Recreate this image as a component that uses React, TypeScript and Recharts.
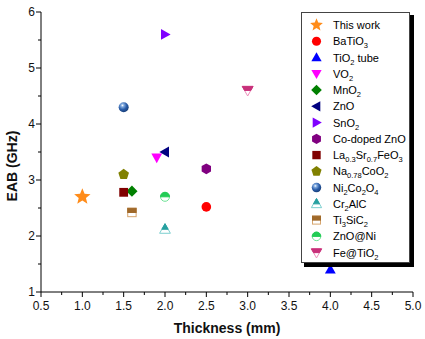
import React from 'react';
import { ScatterChart, Scatter, XAxis, YAxis, Legend } from 'recharts';

// ---- data ----
const names = [
  'This work', 'BaTiO_{3}', 'TiO_{2} tube', 'VO_{2}', 'MnO_{2}', 'ZnO', 'SnO_{2}',
  'Co-doped ZnO', 'La_{0.3}Sr_{0.7}FeO_{3}', 'Na_{0.78}CoO_{2}', 'Ni_{2}Co_{2}O_{4}',
  'Cr_{2}AlC', 'Ti_{3}SiC_{2}', 'ZnO@Ni', 'Fe@TiO_{2}',
];
const thickness = [1.0, 2.5, 4.0, 1.9, 1.6, 2.0, 2.0, 2.5, 1.5, 1.5, 1.5, 2.0, 1.6, 2.0, 3.0];
const eab = [2.7, 2.52, 1.4, 3.4, 2.8, 3.5, 5.6, 3.2, 2.78, 3.1, 4.3, 2.12, 2.42, 2.7, 4.6];
const xTicks = [0.5, 0.75, 1.0, 1.25, 1.5, 1.75, 2.0, 2.25, 2.5, 2.75, 3.0, 3.25, 3.5, 3.75, 4.0, 4.25, 4.5, 4.75, 5.0];
const yTicks = [1, 1.5, 2, 2.5, 3, 3.5, 4, 4.5, 5, 5.5, 6];

// ---- styles ----
const markerKinds = ['star', 'circle', 'triUp', 'triDown', 'diamond', 'triLeft', 'triRight', 'hexagon',
  'square', 'pentagon', 'sphere', 'halfTriUp', 'halfSquare', 'halfCircle', 'halfTriDown'];
const fills = ['#ff8c1a', '#ff0000', '#0000ff', '#ff00ff', '#008000', '#000080', '#8000ff', '#800080',
  '#800000', '#808000', '#2a5ca8', '#26a0a0', '#a0692a', '#22cc55', '#c8307a'];
const lights = ['', '', '', '', '', '', '', '', '', '', '', '#7ccfcf', '#d6a56e', '#6ee396', '#ee8fbb'];

const FONT = '"Liberation Sans", Arial, Helvetica, sans-serif';

const poly = (pts: number[][]) => pts.map((p) => p.join(',')).join(' ');
const regular = (cx: number, cy: number, r: number, n: number, start: number) => {
  const pts: number[][] = [];
  for (let i = 0; i < n; i++) {
    const a = ((start + (360 / n) * i) * Math.PI) / 180;
    pts.push([cx + r * Math.cos(a), cy + r * Math.sin(a)]);
  }
  return pts;
};

function Marker({ kind, cx, cy, fill, light, s = 1, uid }: any) {
  switch (kind) {
    case 'star': {
      const pts: number[][] = [];
      for (let i = 0; i < 10; i++) {
        const a = ((-90 + i * 36) * Math.PI) / 180;
        const r = i % 2 === 0 ? 8.6 * s : 3.8 * s;
        pts.push([cx + r * Math.cos(a), cy + r * Math.sin(a)]);
      }
      return <polygon points={poly(pts)} fill={fill} />;
    }
    case 'circle':
      return <circle cx={cx} cy={cy} r={4.8 * s} fill={fill} />;
    case 'triUp':
      return <polygon points={poly([[cx, cy - 5.6 * s], [cx - 5.4 * s, cy + 4 * s], [cx + 5.4 * s, cy + 4 * s]])} fill={fill} />;
    case 'triDown':
      return <polygon points={poly([[cx, cy + 5.6 * s], [cx - 5.4 * s, cy - 4 * s], [cx + 5.4 * s, cy - 4 * s]])} fill={fill} />;
    case 'triLeft':
      return <polygon points={poly([[cx - 5.6 * s, cy], [cx + 4 * s, cy - 5.4 * s], [cx + 4 * s, cy + 5.4 * s]])} fill={fill} />;
    case 'triRight':
      return <polygon points={poly([[cx + 5.6 * s, cy], [cx - 4 * s, cy - 5.4 * s], [cx - 4 * s, cy + 5.4 * s]])} fill={fill} />;
    case 'diamond':
      return <polygon points={poly([[cx, cy - 5.6 * s], [cx + 5.6 * s, cy], [cx, cy + 5.6 * s], [cx - 5.6 * s, cy]])} fill={fill} />;
    case 'hexagon':
      return <polygon points={poly(regular(cx, cy, 5.4 * s, 6, -90))} fill={fill} />;
    case 'pentagon':
      return <polygon points={poly(regular(cx, cy, 5.6 * s, 5, -90))} fill={fill} />;
    case 'square':
      return <rect x={cx - 4.4 * s} y={cy - 4.4 * s} width={8.8 * s} height={8.8 * s} fill={fill} />;
    case 'sphere': {
      const id = `sph-${uid}`;
      return (
        <g>
          <defs>
            <radialGradient id={id} cx="38%" cy="32%" r="70%">
              <stop offset="0%" stopColor="#ffffff" />
              <stop offset="22%" stopColor="#7fa9de" />
              <stop offset="60%" stopColor={fill} />
              <stop offset="100%" stopColor="#173e78" />
            </radialGradient>
          </defs>
          <circle cx={cx} cy={cy} r={5 * s} fill={`url(#${id})`} />
        </g>
      );
    }
    case 'halfTriUp': {
      const top = cy - 5.6 * s, base = cy + 4 * s, w = 5.4 * s;
      const k = (cy - top) / (base - top);
      return (
        <g>
          <polygon points={poly([[cx, top], [cx - w, base], [cx + w, base]])} fill="#fff" stroke={light} strokeWidth={1} />
          <polygon points={poly([[cx, top], [cx - w * k, cy], [cx + w * k, cy]])} fill={fill} stroke={fill} strokeWidth={1} />
        </g>
      );
    }
    case 'halfTriDown': {
      const top = cy - 4 * s, tip = cy + 5.6 * s, w = 5.4 * s;
      const k = (tip - cy) / (tip - top);
      return (
        <g>
          <polygon points={poly([[cx - w, top], [cx + w, top], [cx, tip]])} fill="#fff" stroke={light} strokeWidth={1} />
          <polygon points={poly([[cx - w, top], [cx + w, top], [cx + w * k, cy], [cx - w * k, cy]])} fill={fill} stroke={fill} strokeWidth={1} />
        </g>
      );
    }
    case 'halfSquare': {
      const h = 4.2 * s;
      return (
        <g>
          <rect x={cx - h} y={cy - h} width={2 * h} height={2 * h} fill="#fff" stroke={light} strokeWidth={1} />
          <rect x={cx - h} y={cy - h} width={2 * h} height={h} fill={fill} stroke={fill} strokeWidth={1} />
        </g>
      );
    }
    case 'halfCircle': {
      const r = 4.5 * s;
      return (
        <g>
          <circle cx={cx} cy={cy} r={r} fill="#fff" stroke={light} strokeWidth={1} />
          <path d={`M ${cx - r} ${cy} A ${r} ${r} 0 0 1 ${cx + r} ${cy} Z`} fill={fill} stroke={fill} strokeWidth={1} />
        </g>
      );
    }
    default:
      return null;
  }
}

// rich label with _{sub}
function RichText({ x, y, text }: any) {
  const parts: { t: string; sub: boolean }[] = [];
  const re = /_\{([^}]*)\}/g;
  let last = 0;
  let m;
  while ((m = re.exec(text)) !== null) {
    if (m.index > last) parts.push({ t: text.slice(last, m.index), sub: false });
    parts.push({ t: m[1], sub: true });
    last = m.index + m[0].length;
  }
  if (last < text.length) parts.push({ t: text.slice(last), sub: false });
  let prevSub = false;
  return (
    <text x={x} y={y} fontSize={11} fill="#000" fontFamily={FONT}>
      {parts.map((p, i) => {
        let dy = 0;
        if (p.sub && !prevSub) dy = 3;
        if (!p.sub && prevSub) dy = -3;
        prevSub = p.sub;
        return (
          <tspan key={i} dy={dy} fontSize={p.sub ? 7.5 : 11}>
            {p.t}
          </tspan>
        );
      })}
    </text>
  );
}

const isMajor = (v: number) => Math.abs(v * 2 - Math.round(v * 2)) < 1e-6;

function XTick(props: any) {
  const { x, y, payload } = props;
  const v = payload.value;
  const major = isMajor(v);
  return (
    <g>
      <line x1={x} x2={x} y1={y} y2={y + (major ? 5 : 3)} stroke="#000" strokeWidth={1} />
      {major && (
        <text x={x} y={y + 18} textAnchor="middle" fontSize={12} fill="#111" fontFamily={FONT}>
          {v.toFixed(1)}
        </text>
      )}
    </g>
  );
}

function YTick(props: any) {
  const { x, y, payload } = props;
  const v = payload.value;
  const major = Math.abs(v - Math.round(v)) < 1e-6;
  return (
    <g>
      <line x1={x} x2={x - (major ? 5 : 3)} y1={y} y2={y} stroke="#000" strokeWidth={1} />
      {major && (
        <text x={x - 6} y={y + 4.3} textAnchor="end" fontSize={12} fill="#111" fontFamily={FONT}>
          {String(v)}
        </text>
      )}
    </g>
  );
}

function XLabel(props: any) {
  const vb = props.viewBox || { x: 41, y: 292, width: 372, height: 47 };
  return (
    <text x={vb.x + vb.width / 2} y={vb.y + 41} textAnchor="middle" fontSize={14} fontWeight="bold" fill="#111" fontFamily={FONT}>
      Thickness (mm)
    </text>
  );
}

function YLabel() {
  return (
    <text x={17} y={166} transform="rotate(-90 17 166)" textAnchor="middle" fontSize={14} fontWeight="bold" fill="#111" fontFamily={FONT}>
      EAB (GHz)
    </text>
  );
}

const renderLegend = () => (
  <svg width={425} height={339} style={{ position: 'absolute', left: 0, top: 0, overflow: 'visible' }}>
    <rect x={304} y={15} width={110} height={252} fill="#000" />
    <rect x={301.5} y={12.5} width={108} height={250} fill="#fff" stroke="#444" strokeWidth={1} />
    {names.map((n, i) => {
      const cy = 25 + i * 16.26;
      return (
        <g key={n}>
          <Marker kind={markerKinds[i]} cx={316.5} cy={cy} fill={fills[i]} light={lights[i]} s={markerKinds[i] === 'star' ? 0.78 : 0.95} uid={`lg${i}`} />
          <RichText x={333} y={cy + 4} text={n} />
        </g>
      );
    })}
  </svg>
);

export default function App() {
  const series = names.map((n, i) => ({ name: n, data: [{ x: thickness[i], y: eab[i] }] }));
  return (
    <div style={{ position: 'absolute', left: 0, top: 0, width: 425, height: 339, background: '#fff' }}>
      <ScatterChart width={425} height={339} margin={{ top: 12, right: 12, bottom: 0, left: 0 }} style={{ fontFamily: FONT }}>
        <XAxis
          dataKey="x"
          type="number"
          domain={[0.5, 5]}
          ticks={xTicks}
          interval={0}
          allowDataOverflow
          tick={<XTick />}
          tickLine={false}
          tickSize={0}
          tickMargin={0}
          height={47}
          axisLine={{ stroke: '#000', strokeWidth: 1 }}
          label={<XLabel />}
        />
        <YAxis
          dataKey="y"
          type="number"
          domain={[1, 6]}
          ticks={yTicks}
          interval={0}
          allowDataOverflow
          tick={<YTick />}
          tickLine={false}
          tickSize={0}
          tickMargin={0}
          width={41}
          axisLine={{ stroke: '#000', strokeWidth: 1 }}
          label={<YLabel />}
        />
        <XAxis xAxisId="top" orientation="top" type="number" domain={[0.5, 5]} height={0} tick={false} tickLine={false} axisLine={{ stroke: '#8a8a8a' }} />
        <YAxis yAxisId="right" orientation="right" type="number" domain={[1, 6]} width={0} tick={false} tickLine={false} axisLine={{ stroke: '#000', strokeWidth: 2 }} />
        {series.map((s, i) => (
          <Scatter
            key={s.name}
            name={s.name}
            data={s.data}
            fill={fills[i]}
            isAnimationActive={false}
            shape={(p: any) => <Marker kind={markerKinds[i]} cx={p.cx} cy={p.cy} fill={fills[i]} light={lights[i]} uid={`pt${i}`} />}
          />
        ))}
        <Legend
          layout="vertical"
          align="center"
          verticalAlign="middle"
          content={renderLegend}
          wrapperStyle={{ position: 'absolute', left: 0, top: 0, width: 425, height: 339, pointerEvents: 'none' }}
        />
      </ScatterChart>
    </div>
  );
}
